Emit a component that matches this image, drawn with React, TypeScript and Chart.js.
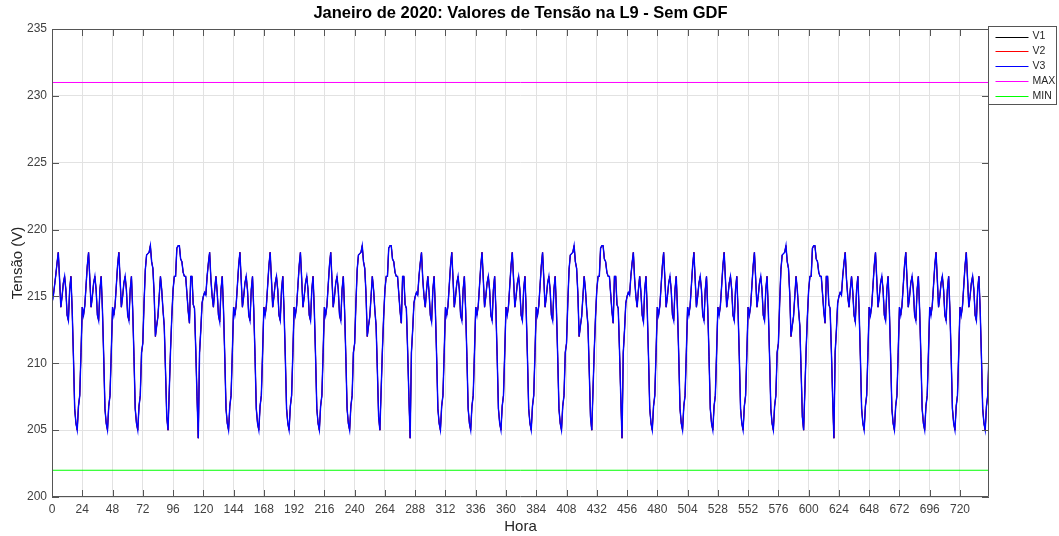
import { useEffect, useRef } from 'react';
import { Chart, registerables } from 'chart.js';

Chart.register(...registerables);

// ---- Data (hourly voltage, January 2020, 31 days) ----
const HOURS_PER_DAY = 24;

// day-by-day calendar of January 2020 (Jan 1 = Wednesday)
const DAY_TYPES = [
  'first', 'weekday', 'weekday', 'saturday', 'sunday', 'monday', 'weekday',
  'weekday', 'weekday', 'weekday', 'saturday', 'sunday', 'monday', 'weekday',
  'weekday', 'weekday', 'weekday', 'saturday', 'sunday', 'monday', 'weekday',
  'weekday', 'weekday', 'weekday', 'saturday', 'sunday', 'monday', 'weekday',
  'weekday', 'weekday', 'weekday',
];

// hourly profiles (hour 0..23)
const FIRST_DAY = [215.5, 215.0, 215.8, 216.6, 217.5, 218.3, 216.3, 214.2, 215.0, 216.0, 216.5, 215.5,
  213.6, 213.2, 215.5, 216.5, 214.0, 210.5, 206.6, 205.5, 205.0, 206.8, 207.6, 210.8];
const WEEKDAY = [214.2, 213.6, 214.3, 215.8, 217.3, 218.3, 216.3, 214.2, 215.0, 216.0, 216.5, 215.5,
  213.6, 213.2, 215.5, 216.5, 214.0, 210.5, 206.6, 205.5, 205.0, 206.8, 207.6, 210.8];
const SATURDAY = [211.5, 214.5, 217.0, 218.1, 218.2, 218.3, 218.8, 217.6, 217.1, 215.2, 212.0, 212.8,
  213.5, 215.0, 216.5, 215.5, 214.0, 212.8, 209.5, 206.0, 205.0, 208.0, 211.0, 213.5];
const SUNDAY = [215.5, 216.5, 216.5, 218.6, 218.8, 218.8, 217.8, 217.6, 216.8, 216.5, 216.5, 215.2,
  213.9, 213.0, 216.5, 216.5, 214.4, 214.1, 211.0, 207.5, 204.4, 210.8, 212.5, 214.5];
const MONDAY = [215.0, 215.3, 215.1, 216.5, 217.5, 218.3, 216.3, 215.0, 214.2, 215.5, 216.5, 215.3,
  213.6, 213.1, 215.5, 216.5, 214.0, 210.5, 206.6, 205.5, 205.0, 206.8, 207.6, 210.8];

const MAX_LIMIT = 231;
const MIN_LIMIT = 202;
const X_MIN = 0;
const X_MAX = 743;

const X_TICKS = [0, 24, 48, 72, 96, 120, 144, 168, 192, 216, 240, 264, 288, 312, 336, 360,
  384, 408, 432, 456, 480, 504, 528, 552, 576, 600, 624, 648, 672, 696, 720];
const Y_TICKS = [200, 205, 210, 215, 220, 225, 230, 235];

const LEGEND_LABELS = ['V1', 'V2', 'V3', 'MAX', 'MIN'];
const LEGEND_COLORS = ['#000000', '#ff0000', '#0000ff', '#ff00ff', '#00ff00'];

const PROFILES: Record<string, number[]> = {
  first: FIRST_DAY,
  weekday: WEEKDAY,
  saturday: SATURDAY,
  sunday: SUNDAY,
  monday: MONDAY,
};

function buildSeries() {
  const pts: { x: number; y: number }[] = [];
  DAY_TYPES.forEach((t, d) => {
    PROFILES[t].forEach((v, h) => pts.push({ x: d * HOURS_PER_DAY + h, y: v }));
  });
  return pts;
}

const FONT = '"Liberation Sans", Arial, Helvetica, sans-serif';
const TEXT_COLOR = '#262626';
const TICK_COLOR = '#404040';

const matlabPlugin = {
  id: 'matlabFrame',
  afterDraw(chart: any) {
    const { ctx, chartArea, scales } = chart;
    const { left, right, top, bottom } = chartArea;
    const xs = scales.x;
    const ys = scales.y;
    ctx.save();
    // frame
    ctx.strokeStyle = '#555555';
    ctx.lineWidth = 1;
    ctx.beginPath();
    ctx.rect(Math.round(left) + 0.5, Math.round(top) + 0.5, Math.round(right - left) - 1, Math.round(bottom - top) - 1);
    ctx.stroke();
    // inward ticks
    const tl = 7;
    ctx.beginPath();
    X_TICKS.forEach((v) => {
      const px = Math.round(xs.getPixelForValue(v)) + 0.5;
      ctx.moveTo(px, bottom);
      ctx.lineTo(px, bottom - tl);
      ctx.moveTo(px, top);
      ctx.lineTo(px, top + tl);
    });
    Y_TICKS.forEach((v) => {
      const py = Math.round(ys.getPixelForValue(v)) + 0.5;
      ctx.moveTo(left, py);
      ctx.lineTo(left + tl, py);
      ctx.moveTo(right, py);
      ctx.lineTo(right - tl, py);
    });
    ctx.stroke();

    // title
    ctx.fillStyle = '#000000';
    ctx.font = `bold 16.5px ${FONT}`;
    ctx.textAlign = 'center';
    ctx.textBaseline = 'middle';
    ctx.fillText('Janeiro de 2020: Valores de Tensão na L9 - Sem GDF', (left + right) / 2, 13);

    // legend
    const bx = Math.round(right) - 0.5;
    const by = 26.5;
    const bw = 68;
    const bh = 78;
    ctx.fillStyle = '#ffffff';
    ctx.fillRect(bx, by, bw, bh);
    ctx.strokeStyle = '#555555';
    ctx.strokeRect(bx, by, bw, bh);
    ctx.font = `10.5px ${FONT}`;
    ctx.textAlign = 'left';
    ctx.textBaseline = 'middle';
    LEGEND_LABELS.forEach((lab, i) => {
      const yy = 36.5 + i * 14.8;
      ctx.strokeStyle = LEGEND_COLORS[i];
      ctx.beginPath();
      ctx.moveTo(bx + 7, Math.round(yy) + 0.5);
      ctx.lineTo(bx + 40, Math.round(yy) + 0.5);
      ctx.stroke();
      ctx.fillStyle = TEXT_COLOR;
      ctx.fillText(lab, bx + 44, yy);
    });
    ctx.restore();
  },
};

export default function App() {
  const ref = useRef<HTMLCanvasElement>(null);

  useEffect(() => {
    document.body.style.margin = '0';
    const series = buildSeries();
    const v1 = series.map((p) => ({ ...p }));
    const v2 = series.map((p) => ({ ...p }));
    const v3 = series.map((p) => ({ ...p }));
    const maxLine = [{ x: X_MIN, y: MAX_LIMIT }, { x: X_MAX, y: MAX_LIMIT }];
    const minLine = [{ x: X_MIN, y: MIN_LIMIT }, { x: X_MAX, y: MIN_LIMIT }];

    const common = { pointRadius: 0, fill: false, tension: 0 };
    const chart = new Chart(ref.current as HTMLCanvasElement, {
      type: 'line',
      data: {
        datasets: [
          { label: 'V1', data: v1, borderColor: LEGEND_COLORS[0], borderWidth: 1, order: 5, ...common },
          { label: 'V2', data: v2, borderColor: LEGEND_COLORS[1], borderWidth: 1, order: 4, ...common },
          { label: 'V3', data: v3, borderColor: LEGEND_COLORS[2], borderWidth: 1.4, order: 3, ...common },
          { label: 'MAX', data: maxLine, borderColor: LEGEND_COLORS[3], borderWidth: 1, order: 2, ...common },
          { label: 'MIN', data: minLine, borderColor: LEGEND_COLORS[4], borderWidth: 1, order: 1, ...common },
        ],
      },
      options: {
        animation: false,
        responsive: false,
        maintainAspectRatio: false,
        layout: { padding: { left: 0, right: 70, top: 29, bottom: 0 } },
        plugins: {
          legend: { display: false },
          title: { display: false },
          tooltip: { enabled: false },
        },
        scales: {
          x: {
            type: 'linear',
            min: X_MIN,
            max: X_MAX,
            afterBuildTicks: (s: any) => {
              s.ticks = X_TICKS.map((v) => ({ value: v }));
            },
            afterFit: (s: any) => {
              s.height = 39;
            },
            grid: { color: '#e2e2e2', drawTicks: false },
            border: { display: false },
            ticks: {
              autoSkip: false,
              maxRotation: 0,
              padding: 5,
              color: TICK_COLOR,
              font: { family: FONT, size: 12 },
            },
            title: {
              display: true,
              text: 'Hora',
              color: TEXT_COLOR,
              font: { family: FONT, size: 15 },
              padding: { top: 0, bottom: 0 },
            },
          },
          y: {
            type: 'linear',
            min: 200,
            max: 235,
            afterBuildTicks: (s: any) => {
              s.ticks = Y_TICKS.map((v) => ({ value: v }));
            },
            afterFit: (s: any) => {
              s.width = 52;
            },
            grid: { color: '#e2e2e2', drawTicks: false },
            border: { display: false },
            ticks: {
              padding: 5,
              color: TICK_COLOR,
              font: { family: FONT, size: 12 },
            },
            title: {
              display: true,
              text: 'Tensão (V)',
              color: TEXT_COLOR,
              font: { family: FONT, size: 15 },
              padding: { top: 9, bottom: 0 },
            },
          },
        },
      },
      plugins: [matlabPlugin],
    } as any);
    return () => chart.destroy();
  }, []);

  return (
    <div style={{ width: 1059, height: 536 }}>
      <canvas ref={ref} width={1059} height={536} style={{ display: 'block' }} />
    </div>
  );
}
